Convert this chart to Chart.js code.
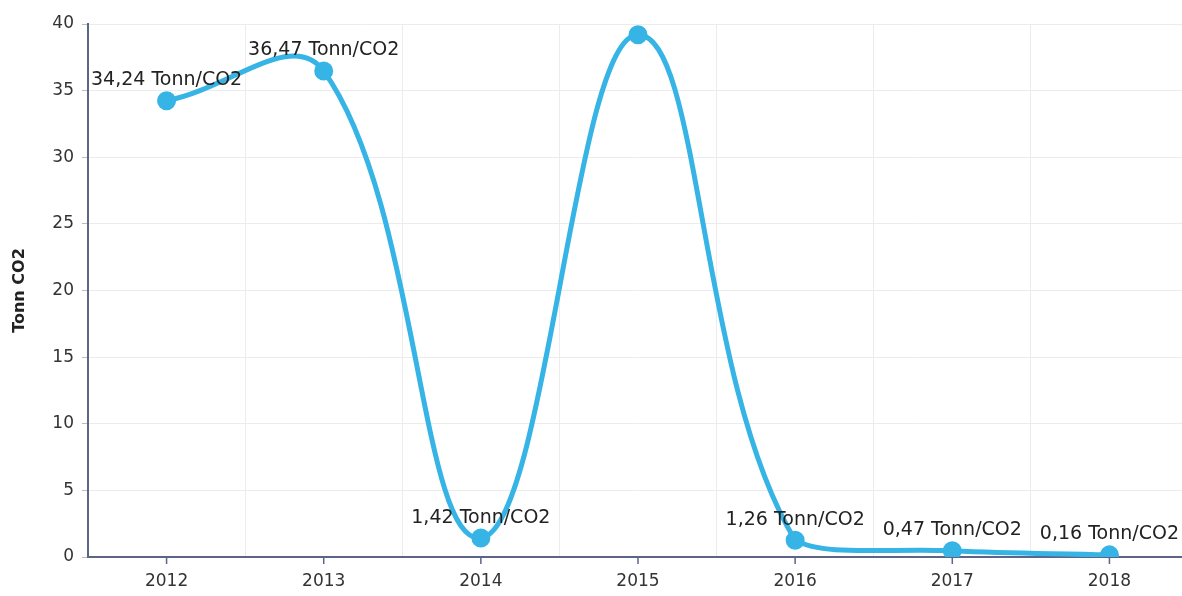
<!DOCTYPE html>
<html>
<head>
<meta charset="utf-8">
<script src="https://cdn.jsdelivr.net/npm/chart.js@4/dist/chart.umd.min.js"></script>
<style>
  html, body { margin: 0; padding: 0; background: #fff; overflow: hidden; }
  #wrap { width: 1200px; height: 596px; position: relative; }
</style>
</head>
<body>
<div id="wrap"><canvas id="chart"></canvas></div>
<script>
const years = ['2012', '2013', '2014', '2015', '2016', '2017', '2018'];
const tonnes = [34.24, 36.47, 1.42, 39.2, 1.26, 0.47, 0.16];
const show_label = [true, true, true, false, true, true, true];
const y_ticks = [0, 5, 10, 15, 20, 25, 30, 35, 40];

const line_color = '#36b4e5';
const axis_color = '#5c6488';
const font_family = '"DejaVu Sans", Verdana, sans-serif';

// text above each point, like "34,24 Tonn/CO2"
const point_labels = {
    id: 'point_labels',
    afterDatasetsDraw(chart) {
        let ctx = chart.ctx;
        let meta = chart.getDatasetMeta(0);
        ctx.save();
        ctx.font = '19px ' + font_family;
        ctx.fillStyle = '#222';
        ctx.textAlign = 'center';
        ctx.textBaseline = 'bottom';
        meta.data.forEach((pt, i) => {
            if (!show_label[i]) return;
            let txt = tonnes[i].toFixed(2).replace('.', ',') + ' Tonn/CO2';
            ctx.fillText(txt, pt.x, pt.y - 11);
        });
        ctx.restore();
    }
};

// small tick marks under the x axis, at each year
const x_tick_marks = {
    id: 'x_tick_marks',
    afterDraw(chart) {
        let ctx = chart.ctx;
        let xs = chart.scales.x;
        ctx.save();
        ctx.strokeStyle = axis_color;
        ctx.lineWidth = 1.5;
        for (let i = 0; i < years.length; i++) {
            let px = xs.getPixelForValue(i);
            ctx.beginPath();
            ctx.moveTo(px, xs.top);
            ctx.lineTo(px, xs.top + 7);
            ctx.stroke();
        }
        ctx.restore();
    }
};

new Chart(document.getElementById('chart').getContext('2d'), {
    type: 'line',
    data: {
        labels: years,
        datasets: [{
            data: tonnes,
            borderColor: line_color,
            backgroundColor: line_color,
            borderWidth: 5,
            pointRadius: 7,
            pointHoverRadius: 7,
            tension: 0.4
        }]
    },
    options: {
        responsive: true,
        maintainAspectRatio: false,
        animation: false,
        layout: { padding: { top: 24, right: 0, left: 0, bottom: 0 } },
        plugins: {
            legend: { display: false },
            tooltip: { enabled: false }
        },
        scales: {
            x: {
                offset: true,
                grid: {
                    offset: true,
                    color: '#ececec',
                    drawTicks: false
                },
                border: { color: axis_color, width: 2 },
                ticks: {
                    color: '#333',
                    padding: 14,
                    font: { family: font_family, size: 17 }
                },
                afterFit: s => { s.height = 39; }
            },
            y: {
                min: 0,
                max: 40,
                afterBuildTicks: s => { s.ticks = y_ticks.map(v => ({ value: v })); },
                grid: {
                    color: '#ececec',
                    tickColor: '#bbb',
                    tickLength: 6
                },
                border: { color: axis_color, width: 2 },
                ticks: {
                    color: '#333',
                    padding: 8,
                    font: { family: font_family, size: 17 }
                },
                title: {
                    display: true,
                    text: 'Tonn CO2',
                    color: '#222',
                    padding: { top: 10, bottom: 0 },
                    font: { family: font_family, size: 16, weight: 'bold' }
                },
                afterFit: s => { s.width = 88; }
            }
        }
    },
    plugins: [point_labels, x_tick_marks]
});
</script>
</body>
</html>
